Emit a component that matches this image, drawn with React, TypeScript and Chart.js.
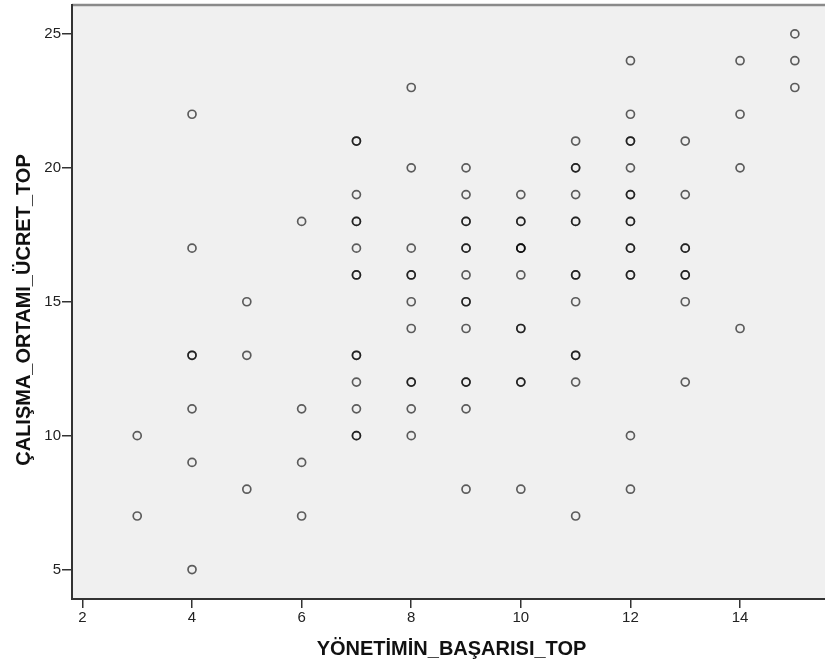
import React, { useEffect, useRef } from "react";
import { Chart, registerables } from "chart.js";

Chart.register(...registerables);

// Y values observed at each X column (repeated values = overlapping cases)
const yAt3 = [10, 7];
const yAt4 = [22, 17, 13, 13, 11, 9, 5];
const yAt5 = [15, 13, 8];
const yAt6 = [18, 11, 9, 7];
const yAt7 = [21, 21, 19, 18, 18, 17, 16, 16, 13, 13, 12, 11, 10, 10];
const yAt8 = [23, 20, 17, 16, 16, 15, 14, 12, 12, 11, 10];
const yAt9 = [20, 19, 18, 18, 17, 17, 16, 15, 15, 14, 12, 12, 11, 8];
const yAt10 = [19, 18, 18, 17, 17, 17, 16, 14, 14, 12, 12, 8];
const yAt11 = [21, 20, 20, 19, 18, 18, 16, 16, 15, 13, 13, 12, 7];
const yAt12 = [24, 22, 21, 21, 20, 19, 19, 18, 18, 17, 17, 16, 16, 10, 8];
const yAt13 = [21, 19, 17, 17, 16, 16, 15, 12];
const yAt14 = [24, 22, 20, 14];
const yAt15 = [25, 24, 23];

const xColumns = [3, 4, 5, 6, 7, 8, 9, 10, 11, 12, 13, 14, 15];
const yColumns = [yAt3, yAt4, yAt5, yAt6, yAt7, yAt8, yAt9, yAt10, yAt11, yAt12, yAt13, yAt14, yAt15];

const xTickValues = [2, 4, 6, 8, 10, 12, 14];
const yTickValues = [5, 10, 15, 20, 25];

const xTitle = "YÖNETİMİN_BAŞARISI_TOP";
const yTitle = "ÇALIŞMA_ORTAMI_ÜCRET_TOP";

const FONT = "'Liberation Sans', Arial, sans-serif";

const plotBg = {
  id: "plotBg",
  beforeDraw(chart: any) {
    const { ctx, chartArea } = chart;
    if (!chartArea) return;
    ctx.save();
    ctx.fillStyle = "#F0F0F0";
    ctx.fillRect(chartArea.left, chartArea.top, chartArea.right - chartArea.left, chartArea.bottom - chartArea.top);
    ctx.strokeStyle = "#8a8a8a";
    ctx.lineWidth = 2.5;
    ctx.beginPath();
    ctx.moveTo(chartArea.left, chartArea.top);
    ctx.lineTo(chartArea.right, chartArea.top);
    ctx.stroke();
    ctx.restore();
  },
  afterDraw(chart: any) {
    const { ctx, chartArea } = chart;
    if (!chartArea) return;
    ctx.save();
    ctx.fillStyle = "#111";
    ctx.font = "bold 20px " + FONT;
    ctx.textAlign = "center";
    ctx.textBaseline = "middle";
    const midX = (chartArea.left + chartArea.right) / 2 + 3;
    ctx.fillText(xTitle, midX, chart.height - 17);
    const midY = (chartArea.top + chartArea.bottom) / 2 + 8;
    ctx.translate(24, midY);
    ctx.rotate(-Math.PI / 2);
    ctx.fillText(yTitle, 0, 0);
    ctx.restore();
  },
};

const zeroPad = (s: any) => {
  s.paddingLeft = 0;
  s.paddingRight = 0;
  s.paddingTop = 0;
  s.paddingBottom = 0;
};

export default function App() {
  const ref = useRef<HTMLCanvasElement | null>(null);

  useEffect(() => {
    if (!ref.current) return;
    const points: { x: number; y: number }[] = [];
    xColumns.forEach((x, i) => {
      yColumns[i].forEach((y) => points.push({ x, y }));
    });

    const chart = new Chart(ref.current, {
      type: "scatter",
      data: {
        datasets: [
          {
            data: points,
            pointRadius: 4,
            pointHoverRadius: 4,
            pointBorderWidth: 1.7,
            pointBackgroundColor: "rgba(0,0,0,0)",
            pointBorderColor: "rgba(0,0,0,0.62)",
          },
        ],
      },
      options: {
        animation: false,
        responsive: true,
        maintainAspectRatio: false,
        layout: { autoPadding: false, padding: { top: 5, right: 0, bottom: 0, left: 0 } },
        plugins: { legend: { display: false }, tooltip: { enabled: false } },
        scales: {
          x: {
            type: "linear",
            min: 1.81,
            max: 15.55,
            afterBuildTicks: (s: any) => {
              s.ticks = xTickValues.map((v) => ({ value: v }));
            },
            afterFit: (s: any) => {
              s.height = 67;
              zeroPad(s);
            },
            ticks: {
              font: { family: FONT, size: 15 },
              color: "#222",
              padding: 1,
              maxRotation: 0,
              autoSkip: false,
            },
            grid: {
              display: true,
              drawOnChartArea: false,
              drawTicks: true,
              tickLength: 9,
              color: "#333",
              lineWidth: 1.5,
            },
            border: { display: true, color: "#333", width: 2 },
            title: { display: false, text: xTitle },
          },
          y: {
            type: "linear",
            min: 3.9,
            max: 26.08,
            afterBuildTicks: (s: any) => {
              s.ticks = yTickValues.map((v) => ({ value: v }));
            },
            afterFit: (s: any) => {
              s.width = 72;
              zeroPad(s);
            },
            ticks: {
              font: { family: FONT, size: 15 },
              color: "#222",
              padding: 1,
              autoSkip: false,
            },
            grid: {
              display: true,
              drawOnChartArea: false,
              drawTicks: true,
              tickLength: 10,
              color: "#333",
              lineWidth: 1.5,
            },
            border: { display: true, color: "#333", width: 2 },
            title: { display: false, text: yTitle },
          },
        },
      },
      plugins: [plotBg],
    });
    return () => chart.destroy();
  }, []);

  return (
    <div style={{ position: "fixed", left: 0, top: 0, width: 825, height: 666, background: "#fff" }}>
      <canvas ref={ref} />
    </div>
  );
}
